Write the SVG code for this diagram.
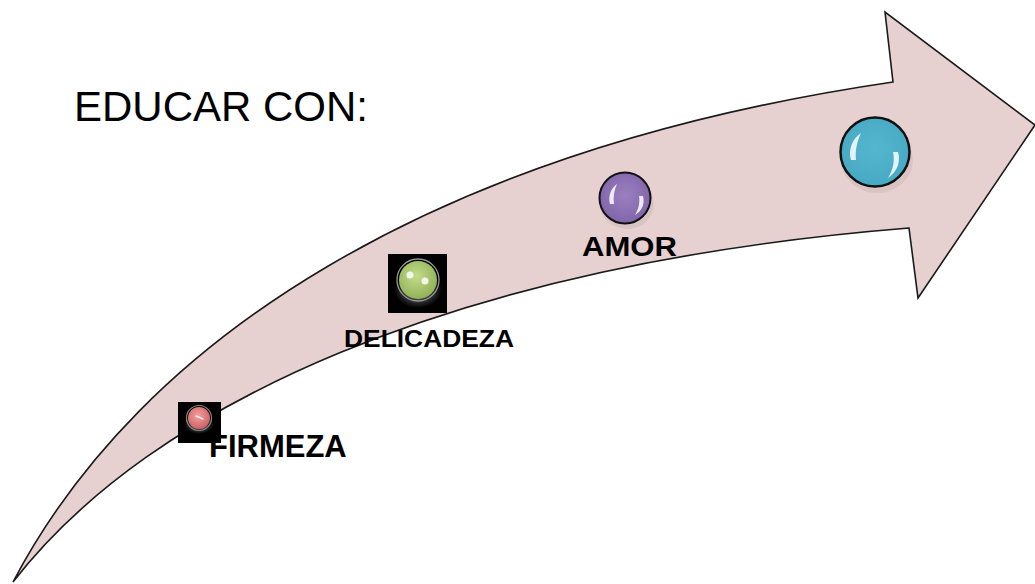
<svg xmlns="http://www.w3.org/2000/svg" width="1035" height="584" viewBox="0 0 1035 584">
<style>
.lbl{font-family:"Liberation Sans",Arial,sans-serif;font-weight:bold;fill:#000}
.ttl{font-family:"Liberation Sans",Arial,sans-serif;fill:#000}
.hl{fill:#fff;opacity:0.85}
</style>
<defs>
<radialGradient id="gRed" cx="0.45" cy="0.4" r="0.6">
<stop offset="0" stop-color="#f2a0a0"/><stop offset="1" stop-color="#d06262"/>
</radialGradient>
<radialGradient id="gGreen" cx="0.45" cy="0.4" r="0.6">
<stop offset="0" stop-color="#c4dc8a"/><stop offset="1" stop-color="#92b257"/>
</radialGradient>
<radialGradient id="gPurple" cx="0.5" cy="0.45" r="0.6">
<stop offset="0" stop-color="#9a80c0"/><stop offset="1" stop-color="#7f62a8"/>
</radialGradient>
<radialGradient id="gBlue" cx="0.5" cy="0.45" r="0.6">
<stop offset="0" stop-color="#55b6cf"/><stop offset="1" stop-color="#45a8c2"/>
</radialGradient>
<radialGradient id="glow" cx="0.5" cy="0.5" r="0.5">
<stop offset="0" stop-color="#fff" stop-opacity="0.55"/><stop offset="1" stop-color="#fff" stop-opacity="0"/>
</radialGradient>
</defs>

<g id="arrow">
<path d="M13,582 C140,340 430,150 893,82 L885,12 L1035,125 L918,298 L909,228 C450,265 150,405 13,582 Z" fill="#e6d0d0" stroke="#1a1a1a" stroke-width="1.6" stroke-linejoin="miter"/>
</g>

<g id="title">
<text class="ttl" x="74" y="121" font-size="42">EDUCAR CON:</text>
</g>

<g id="firmeza">
<text class="lbl" x="209" y="457" font-size="31">FIRMEZA</text>
<rect x="178" y="402" width="43" height="41" fill="#000"/>
<ellipse cx="199" cy="424" rx="15" ry="10" fill="url(#glow)"/>
<circle cx="199" cy="418" r="12.5" fill="none" stroke="#888" stroke-width="1.2"/>
<circle cx="199" cy="418" r="11" fill="url(#gRed)"/>
<path d="M196,416 L203,419" stroke="#fff" stroke-width="1.5" stroke-linecap="round" opacity="0.8"/>
</g>

<g id="delicadeza">
<rect x="388" y="254" width="59" height="59" fill="#000"/>
<ellipse cx="418" cy="290" rx="24" ry="18" fill="url(#glow)"/>
<circle cx="418" cy="280" r="21" fill="none" stroke="#999" stroke-width="1.3"/>
<circle cx="418" cy="280" r="19" fill="url(#gGreen)"/>
<circle cx="410" cy="275" r="3.5" class="hl"/>
<circle cx="425" cy="281" r="3.5" class="hl"/>
<text class="lbl" x="344" y="347" font-size="24" textLength="170" lengthAdjust="spacingAndGlyphs">DELICADEZA</text>
</g>

<g id="amor">
<ellipse cx="627" cy="204" rx="27" ry="25" fill="#b89a9a" opacity="0.25"/>
<circle cx="625" cy="198" r="25.5" fill="url(#gPurple)" stroke="#111" stroke-width="2"/>
<path d="M610,204 C608,196 611,188 617,184 C614,191 613,197 614,204 Z" class="hl"/>
<path d="M643,196 C645,204 642,211 635,215 C639,208 640,202 639,196 Z" class="hl"/>
<text class="lbl" x="582" y="256" font-size="27" textLength="95" lengthAdjust="spacingAndGlyphs">AMOR</text>
</g>

<g id="final">
<ellipse cx="877" cy="160" rx="36" ry="33" fill="#b89a9a" opacity="0.25"/>
<circle cx="875" cy="152" r="34.5" fill="url(#gBlue)" stroke="#111" stroke-width="2.5"/>
<path d="M851,160 C848,150 852,139 861,133 C857,142 855,150 856,160 Z" class="hl"/>
<path d="M898,152 C901,162 897,172 888,178 C893,170 895,161 893,152 Z" class="hl"/>
</g>
</svg>
